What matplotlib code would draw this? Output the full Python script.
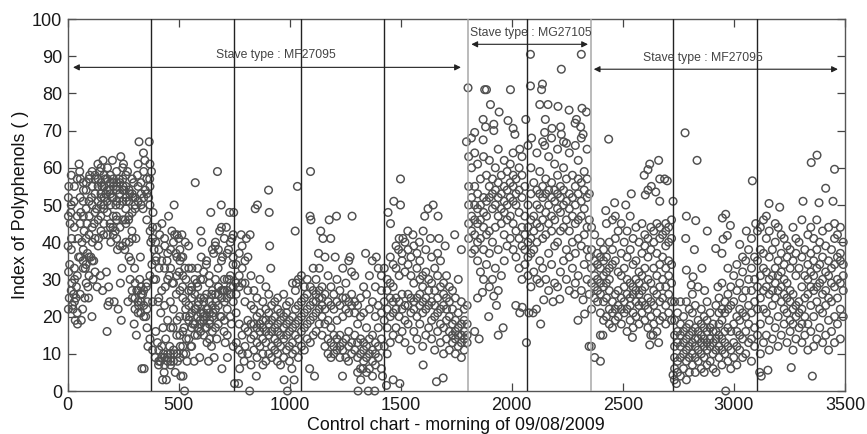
import numpy as np
import matplotlib
matplotlib.use('Agg')
import matplotlib.pyplot as plt

plt.rcParams['font.family'] = ['Liberation Sans', 'DejaVu Sans']

# (sample, polyphenols), one list per zone of the chart
zone_a = [(3,39),(5,32),(8,25),(10,34),(12,45),(15,48),(6,55),(18,41),(20,29),(22,23),(25,22),(28,26),(30,51),(32,30),(35,19),(38,25),
          (40,28),(45,18),(48,41),(50,36),(52,61),(55,59),(58,57),(60,48),(62,19),(65,40),(68,22),(70,35),(72,54),(75,43),(78,25),(80,33),
          (85,56),(88,45),(90,37),(92,28),(95,25),(98,47),(100,58),(105,36),(108,52),(110,20),(112,40),(115,30),(118,35),(120,45),(125,57),
          (130,49),(133,28),(137,61),(140,41),(145,59),(148,31),(150,47),(152,52),(155,55),(158,27),(160,62),(162,42),(165,50),(170,57),
          (172,53),(175,32),(178,16),(180,60),(182,23),(185,28),(188,24),(190,54),(192,45),(195,40),(200,52),(202,62),(205,44),(208,56),
          (210,24),(215,43),(218,50),(220,47),(222,55),(225,38),(228,22),(232,57),(235,53),(238,29),(240,63),(242,19),(245,33),(248,39),
          (250,55),(252,61),(255,54),(258,38),(260,46),(262,49),(265,51),(270,59),(272,24),(275,46),(278,40),(280,53),(282,30),(285,35),
          (290,43),(292,25),(295,52),(298,56),(300,18),(302,33),(305,50),(308,41),(310,15),(312,27),(315,58),(318,61),(320,23),(322,67),
          (325,30),(328,36),(330,21),(332,53),(335,6),(338,26),(340,49),(342,64),(345,6),(348,62),(350,54),(352,20),(355,28),(358,17),
          (360,24),(362,12),(365,52),(368,67),(370,57),(372,43),(375,40),(378,59),(380,34)]

zone_b = [(385,48),(388,30),(390,38),(395,9),(400,36),(403,44),(405,13),(408,24),(410,7),(412,33),(415,42),(418,8),(420,21),(425,45),
          (428,3),(430,17),(432,10),(435,5),(438,39),(440,28),(442,14),(445,3),(448,35),(450,9),(455,47),(458,31),(460,12),(463,24),
          (465,8),(470,43),(472,29),(475,17),(478,10),(480,50),(482,42),(485,5),(488,37),(490,26),(492,15),(495,8),(500,41),(503,32),
          (505,20),(508,12),(510,4),(512,36),(515,42),(518,28),(520,4),(522,10),(525,17),(527,0),(528,33),(530,40),(532,22),(535,14),
          (538,8),(545,39),(550,20),(555,12),(558,27),(560,33),(565,18),(570,8),(575,56),(578,22),(582,29),(585,15),(590,24),(595,9),
          (598,19),(600,43),(602,36),(605,40),(610,30),(612,20),(615,25),(620,17),(625,34),(628,13),(632,22),(635,8),(638,31),(640,19),
          (645,48),(648,12),(650,26),(655,21),(658,37),(660,9),(665,39),(668,24),(672,14),(675,59),(678,33),(680,28),(685,43),(688,20),
          (692,50),(695,6),(698,36),(700,27),(705,16),(710,13),(715,44),(718,25),(720,9),(725,38),(728,30),(730,48),(735,26),(738,18),
          (740,41),(745,34),(748,48)]

zone_c = [(752,2),(760,13),(770,2),(775,6),(782,42),(795,8),(805,41),(820,0),(822,42),(845,49),(850,4),(855,50),(880,7),(905,54),(908,48),
          (910,39),(915,33),(945,8),(975,3),(990,0),(1010,6),(1020,3),(1025,43),(1030,29),(1035,55)]

zone_d = [(1090,6),(1092,47),(1094,59),(1096,46),(1112,4),(1130,37),(1140,43),(1150,41),(1178,46),(1185,41),(1205,36),(1211,47),(1238,4),
          (1265,8),(1272,36),(1281,47),(1308,0),(1320,3),(1330,6),(1342,37),(1354,0),(1372,35),(1383,0),(1390,36),(1418,4)]

zone_e = [(1436,1.5),(1443,48),(1454,45),(1466,3),(1469,51),(1490,38),(1496,2),(1499,50),(1499,57),(1510,41),(1532,43),(1555,42),
          (1584,40),(1601,43),(1601,7),(1608,47),(1623,49),(1634,41),(1646,50),(1661,2.5),(1668,47),(1672,41),(1691,3.5),(1700,39),
          (1743,42),(1773,38)]

zone_f = [(1803,81.5),(1878,81),(1886,81),(1994,81),(2084,90.5),(2313,90.5),(2223,86.5),(2084,82),(2138,82.5),(2134,81),(2126,77),
          (2163,77),(2208,76.5),(2258,75.5),(2316,76),(2336,75),(1904,77),(1943,75),(1871,73),(2063,73),(2151,73),(1983,72.7),(1919,71.7),
          (1882,71),(2006,70.6),(1919,70),(2014,69),(1833,69.5),(1818,68),(1796,67),(1871,67.5),(2181,70.6),(2220,71),(2291,73),(2285,72),
          (2310,71),(2148,69.5),(2223,69),(2321,69),(2246,66.6),(2089,68),(2036,65),(2148,66),(2066,13),(2130,18),(1896,20),(1961,17),
          (1939,15),(1931,23),(1919,25.5),(1868,26.5),(1846,25),(1833,16),(1853,14),(2018,23),(2036,21),(2047,22.5),(2077,21),(2096,21),
          (2111,22),(2144,24.5),(2186,24),(2216,24.7),(2298,19),(2328,20.7),(2283,26),(2321,24.5),(2348,12)]

zone_g = [(2436,67.7),(2661,62),(2621,61),(2613,59.5),(2596,58),(2666,57),(2688,57),(2700,56.5),(2628,55),(2613,54),(2648,53.5),(2601,52.7),
          (2538,53),(2463,50.6),(2513,50),(2666,51),(2726,51),(2423,48.5),(2358,12),(2373,9),(2399,8),(2399,15),(2410,15),(2543,14.4),
          (2621,12.4),(2636,15),(2661,13)]

zone_h = [(2780,69.4),(2834,62),(3083,56.5),(2786,47),(2828,45.8),(2880,43),(2948,46.5),(2963,47.5),(2984,44.5),(2783,41),(2822,38),(2918,38.3),
          (2946,37),(2951,40.8),(2970,41.8),(3026,39.4),(3056,43),(3098,45),(2786,32.5),(2856,33),(2816,30.7),(2808,28.5),(2838,28),(2868,27),
          (2928,28),(2963,0),(2741,2),(2726,4.3),(2732,3)]

zone_i = [(3374,63.4),(3348,61.4),(3453,59.6),(3413,54.5),(3446,51),(3383,50.6),(3311,51),(3158,50.4),(3206,49.4),(3258,6.3),(3353,4),(3153,5.6),
          (3123,4),(3116,5)]

# thick parts of the cloud, read as columns: sample -> polyphenols at that sample
columns = {
    4: [22, 47, 52], 17: [27, 38, 50, 58], 31: [24, 33, 44, 55], 44: [21, 31, 47, 57], 57: [26, 36, 45, 52], 71: [33, 38, 47, 51, 56],
    84: [29, 34, 41, 49, 54], 97: [31, 36, 42, 51, 57], 111: [35, 44, 50, 55, 59], 124: [32, 41, 48, 53, 58], 138: [39, 46, 51, 55, 57],
    151: [43, 50, 53, 56, 60], 164: [45, 49, 52, 55, 58], 179: [42, 48, 51, 54, 57], 193: [44, 50, 53, 56, 58], 206: [42, 47, 52, 55, 57],
    221: [41, 46, 51, 54, 56, 59], 236: [39, 44, 50, 53, 56], 249: [46, 51, 54, 57, 60], 263: [40, 45, 52, 55, 58], 277: [36, 47, 51, 54],
    291: [27, 41, 48, 53, 57], 304: [22, 25, 29, 49, 52], 318: [21, 24, 27, 51, 55], 331: [24, 26, 28, 50, 56], 343: [20, 23, 27, 52, 59],
    357: [22, 29, 46, 53, 57], 371: [14, 31, 50, 55, 61], 383: [11, 24, 41, 44], 397: [16, 30, 35, 40], 411: [8, 11, 25, 38], 424: [9, 12, 27, 35],
    437: [7, 9, 23, 33, 41], 451: [8, 10, 19, 30, 37], 464: [7, 10, 17, 33, 38], 477: [8, 11, 22, 29, 40], 493: [10, 19, 31, 36, 42],
    506: [9, 15, 27, 35, 38], 519: [12, 16, 25, 31, 36], 533: [10, 20, 24, 30], 546: [14, 19, 23, 27, 33], 559: [12, 17, 21, 25, 28],
    573: [15, 18, 22, 26, 30], 586: [17, 20, 23, 28, 33], 599: [16, 18, 21, 25, 30], 613: [15, 19, 21, 24, 32], 626: [17, 20, 22, 26, 35],
    639: [14, 18, 21, 24, 29], 652: [16, 20, 23, 27, 38], 666: [17, 22, 26, 30, 40], 679: [18, 23, 26, 28, 38], 693: [20, 25, 27, 35, 44],
    706: [19, 24, 27, 30, 41], 719: [15, 22, 27, 30, 37], 733: [20, 26, 28, 31, 40], 746: [12, 24, 28, 36, 42], 759: [21, 26, 29, 34],
    773: [11, 18, 28, 31, 37], 786: [10, 15, 29, 33, 39], 799: [12, 17, 24, 29, 35], 812: [10, 16, 19, 27, 36], 826: [7, 14, 18, 23, 31],
    839: [11, 15, 18, 22, 27], 853: [9, 13, 17, 20, 25], 866: [12, 16, 18, 21, 30], 879: [10, 14, 17, 19, 24], 893: [8, 13, 16, 19, 22, 28],
    906: [10, 15, 18, 21, 26], 919: [9, 12, 16, 19, 23], 933: [11, 14, 17, 20, 24], 946: [10, 13, 16, 18, 22, 25], 959: [7, 12, 15, 19, 21],
    973: [9, 14, 17, 20, 26], 986: [11, 15, 18, 21, 23], 999: [8, 12, 16, 19, 24], 1013: [10, 13, 17, 20, 29], 1026: [11, 15, 18, 22, 27],
    1039: [9, 14, 19, 23, 30], 1053: [12, 16, 20, 24, 31], 1066: [11, 17, 21, 25, 28], 1079: [14, 18, 22, 26, 30], 1093: [13, 19, 23, 28],
    1106: [15, 20, 24, 27, 33], 1119: [16, 21, 24, 26, 30], 1133: [18, 22, 25, 27, 33], 1146: [15, 20, 23, 25, 28], 1159: [12, 18, 22, 26, 36],
    1173: [10, 14, 19, 24, 31], 1186: [9, 13, 17, 23, 28], 1199: [10, 12, 15, 22, 26], 1213: [11, 14, 19, 24, 30], 1226: [9, 12, 15, 23, 27],
    1239: [11, 13, 20, 25, 33], 1253: [9, 14, 22, 25, 29], 1266: [12, 16, 21, 24, 35], 1279: [10, 13, 23, 26, 32], 1293: [11, 15, 21, 24, 31],
    1306: [5, 9, 13, 18, 23], 1319: [6, 10, 14, 20, 25], 1333: [8, 11, 13, 21, 28], 1346: [5, 9, 12, 17, 26], 1359: [6, 10, 14, 22, 31],
    1373: [4, 8, 11, 15, 24], 1386: [7, 10, 13, 20, 28], 1399: [9, 12, 17, 23, 33], 1413: [6, 14, 21, 27, 31], 1426: [12, 19, 24, 33],
    1439: [10, 17, 22, 27, 30], 1453: [13, 20, 25, 29, 36], 1466: [15, 21, 24, 28, 34], 1479: [17, 22, 25, 33, 39], 1493: [14, 20, 24, 31, 41],
    1506: [16, 22, 26, 35, 37], 1519: [13, 19, 23, 32, 40], 1533: [18, 23, 26, 34, 38], 1546: [11, 21, 25, 31, 36], 1559: [16, 22, 24, 29, 39],
    1573: [14, 20, 25, 33, 37], 1586: [18, 23, 26, 30, 35], 1599: [12, 21, 24, 28, 31], 1613: [15, 22, 25, 32, 38], 1626: [17, 23, 27, 30],
    1639: [14, 19, 24, 29, 36], 1653: [11, 20, 23, 27, 33], 1666: [16, 21, 25, 31, 37], 1679: [13, 18, 22, 28, 35], 1693: [10, 17, 23, 26, 29],
    1706: [14, 19, 22, 25, 31], 1719: [11, 16, 20, 24, 28], 1733: [13, 15, 18, 22, 27], 1746: [10, 14, 16, 19, 25], 1759: [12, 15, 17, 21, 30],
    1773: [9, 13, 15, 18, 24], 1786: [11, 14, 16, 19, 22], 1799: [13, 15, 18, 23],
    1806: [41, 45, 50, 55, 63], 1819: [37, 43, 47, 52, 60], 1833: [38, 42, 46, 50, 55, 64], 1846: [35, 40, 45, 49, 53, 61], 1859: [32, 41, 46, 50, 57],
    1873: [30, 38, 44, 48, 52, 63], 1886: [34, 42, 47, 51, 58], 1899: [28, 37, 43, 52, 55, 62], 1913: [30, 40, 49, 53, 57], 1926: [33, 44, 50, 54, 60],
    1939: [27, 38, 47, 52, 56, 65], 1953: [31, 45, 49, 53, 58], 1966: [35, 42, 48, 51, 55, 62], 1979: [39, 46, 50, 54, 59], 1993: [41, 47, 52, 56, 61],
    2006: [38, 45, 51, 55, 58, 64], 2019: [36, 43, 50, 53, 57], 2033: [33, 41, 48, 54, 60], 2046: [30, 39, 44, 52, 58, 63], 2059: [34, 38, 42, 47, 55],
    2073: [31, 36, 40, 44, 50, 66], 2086: [28, 37, 41, 46, 53, 60], 2099: [32, 38, 43, 47, 56], 2113: [30, 40, 45, 50, 54, 64], 2126: [29, 35, 44, 49, 53, 59],
    2139: [33, 41, 46, 52, 55, 67], 2153: [30, 42, 48, 53, 57], 2166: [27, 37, 45, 50, 54, 63], 2179: [34, 43, 47, 52, 56, 68], 2193: [29, 39, 46, 51, 54, 61],
    2206: [28, 40, 49, 53, 58, 65], 2219: [32, 43, 48, 52, 55], 2233: [35, 44, 50, 54, 60, 67], 2246: [30, 38, 46, 51, 57], 2259: [27, 36, 43, 49, 53, 64],
    2273: [33, 40, 47, 52, 58], 2286: [29, 37, 45, 50, 55, 66], 2299: [31, 41, 46, 53, 57, 62], 2313: [27, 39, 47, 51, 56, 68], 2326: [34, 42, 49, 54, 59],
    2339: [30, 38, 44, 52, 57, 65], 2349: [26, 36, 46, 53],
    2359: [22, 29, 33, 38, 44], 2373: [25, 28, 31, 35, 42], 2386: [24, 27, 30, 34, 37], 2399: [21, 26, 29, 33, 36, 40], 2413: [19, 24, 28, 31, 35, 38],
    2426: [20, 25, 29, 32, 36, 45], 2439: [18, 22, 27, 30, 33, 40], 2453: [17, 21, 24, 34, 38, 46], 2466: [19, 22, 26, 35, 41, 47], 2479: [20, 23, 27, 32, 43],
    2493: [18, 22, 25, 31, 37, 45], 2506: [21, 24, 28, 33, 40], 2519: [16, 22, 26, 30, 36, 43], 2533: [19, 23, 25, 29, 38, 47], 2546: [17, 21, 26, 28, 34, 41],
    2559: [20, 24, 27, 30, 35, 44], 2573: [18, 23, 26, 29, 32, 40], 2586: [21, 24, 27, 31, 37, 45], 2599: [19, 23, 28, 33, 39, 42], 2613: [17, 22, 25, 30, 36, 41],
    2626: [15, 20, 24, 29, 38, 44], 2639: [18, 23, 27, 33, 40, 43], 2653: [16, 21, 26, 31, 37, 45], 2666: [19, 24, 28, 34, 41, 44], 2679: [20, 25, 30, 36, 42],
    2693: [18, 23, 28, 33, 39, 43, 45], 2706: [21, 26, 31, 35, 40, 44], 2719: [19, 24, 29, 34, 41, 46],
    2733: [6, 9, 12, 15, 19, 24], 2746: [5, 8, 13, 16, 21], 2759: [4, 9, 12, 15, 18, 24], 2773: [6, 10, 13, 16, 20], 2786: [3, 8, 11, 14, 17, 24],
    2799: [5, 9, 12, 15, 18, 22], 2813: [7, 10, 13, 16, 21, 26], 2826: [5, 9, 12, 14, 17, 23], 2839: [8, 11, 14, 16, 19], 2853: [6, 10, 13, 15, 18, 22],
    2866: [5, 9, 12, 14, 17, 20], 2879: [7, 11, 13, 16, 19, 24], 2893: [8, 12, 14, 17, 21], 2906: [6, 10, 13, 16, 18], 2919: [5, 11, 14, 16, 23],
    2933: [9, 12, 15, 18, 21, 25], 2946: [7, 11, 14, 19, 22, 29], 2959: [10, 13, 16, 21, 24], 2973: [8, 12, 17, 22, 26, 33], 2986: [6, 11, 16, 23, 28],
    2999: [9, 13, 18, 24, 31], 3013: [7, 12, 16, 20, 27, 34], 3026: [11, 15, 19, 22, 29], 3039: [9, 14, 21, 25, 32, 36], 3053: [10, 16, 20, 27, 35],
    3066: [13, 18, 23, 30, 38], 3079: [8, 14, 21, 27, 33, 41], 3093: [12, 17, 24, 30, 36], 3106: [15, 22, 28, 35, 43],
    3119: [10, 18, 25, 31, 38, 44], 3133: [13, 22, 27, 33, 37, 46], 3146: [15, 21, 28, 32, 41, 47], 3159: [11, 19, 26, 30, 36, 43], 3173: [14, 23, 27, 31, 38],
    3186: [17, 25, 29, 33, 40, 45], 3199: [12, 20, 27, 31, 35, 44], 3213: [15, 24, 28, 32, 37, 42], 3226: [18, 22, 26, 30, 34, 41], 3239: [13, 21, 25, 29, 36, 39],
    3253: [16, 19, 24, 27, 33, 38], 3266: [11, 18, 22, 26, 35, 44], 3279: [14, 20, 23, 31, 37, 41], 3293: [17, 21, 24, 33, 40], 3306: [13, 18, 22, 28, 36, 46],
    3319: [15, 20, 25, 31, 38], 3333: [11, 18, 26, 30, 34, 42], 3346: [16, 23, 28, 32, 37, 44], 3359: [12, 20, 27, 31, 35, 41], 3373: [14, 24, 28, 33, 38, 46],
    3386: [17, 22, 29, 34, 40], 3399: [13, 21, 26, 30, 36, 43], 3413: [15, 23, 27, 32, 39], 3426: [11, 19, 25, 31, 35, 44], 3439: [16, 24, 29, 33, 38],
    3453: [13, 20, 28, 34, 41, 45], 3466: [18, 25, 30, 36, 42], 3479: [14, 22, 29, 35, 37, 44], 3492: [20, 27, 31, 34, 40],
}

zones = [zone_a, zone_b, zone_c, zone_d, zone_e, zone_f, zone_g, zone_h, zone_i]
x_vals = [p[0] for zone in zones for p in zone]
y_vals = [p[1] for zone in zones for p in zone]
for sample, values in columns.items():
    x_vals += [sample] * len(values)
    y_vals += values

dark_lines = [377, 750, 1052, 1424, 2068, 2725, 3106]
pale_lines = [1802, 2355]

y_ticks = list(range(0, 101, 10))
x_ticks = [0, 500, 1000, 1500, 2000, 2500, 3000, 3500]

# arrow spans: start, end, height, label, label x, label y
spans = [(25, 1771, 87, 'Stave type : MF27095', 940, 90.2),
         (1818, 2343, 93.2, 'Stave type : MG27105', 2085, 96.2),
         (2369, 3468, 86.5, 'Stave type : MF27095', 2860, 89.6)]

fig = plt.figure(figsize=(8.67, 4.34), dpi=100)
ax = fig.add_axes([67.5 / 867, 43 / 434, 777.5 / 867, 372 / 434])

ax.scatter(x_vals, y_vals, s=30, facecolors='none', edgecolors='#505050',
           linewidths=1.05, clip_on=False, zorder=2)

for x in dark_lines:
    ax.axvline(x, color='#222222', lw=1.0, zorder=3)
for x in pale_lines:
    ax.axvline(x, color='#a8a8a8', lw=1.1, zorder=3)

for start, end, height, label, tx, ty in spans:
    ax.annotate('', xy=(start, height), xytext=(end, height),
                arrowprops=dict(arrowstyle='<|-|>', color='#222222', lw=0.8, mutation_scale=9,
                                shrinkA=0, shrinkB=0), zorder=4)
    ax.text(tx, ty, label, ha='center', va='center', fontsize=8.8, color='#444444', zorder=4)

ax.set_xlim(0, 3500)
ax.set_ylim(0, 100)
ax.set_xticks(x_ticks)
ax.set_yticks(y_ticks)
ax.tick_params(direction='in', length=5.8, width=0.9, color='#444444', top=True, right=True,
               labelsize=13, labelcolor='#1a1a1a', pad=4)
for side in ax.spines.values():
    side.set_color('#555555')
    side.set_linewidth(1.0)

ax.set_xlabel('Control chart - morning of 09/08/2009', fontsize=12.9, color='#111111', labelpad=2.5)
ax.set_ylabel('Index of Polyphenols ( )', fontsize=12.9, color='#111111', labelpad=2)

fig.savefig('out.png', dpi=100)
